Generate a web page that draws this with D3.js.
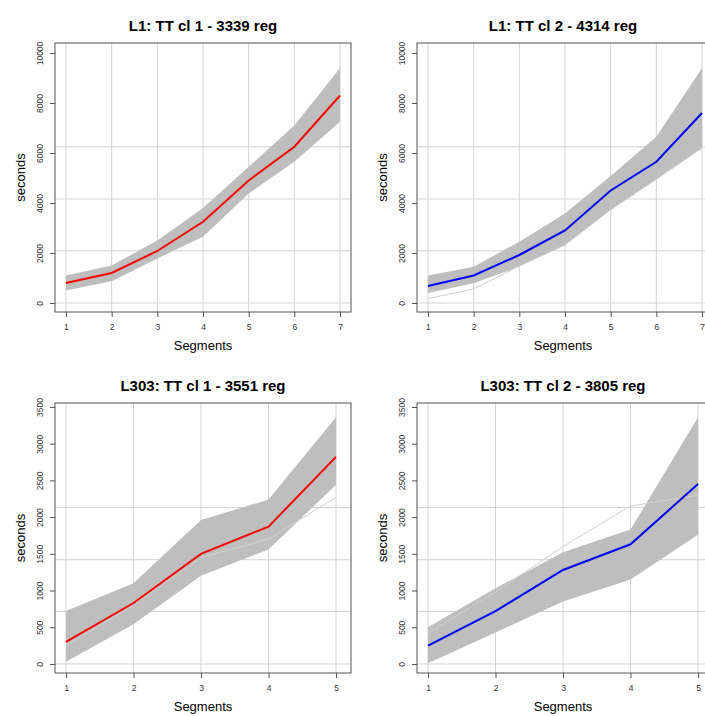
<!DOCTYPE html>
<html>
<head>
<meta charset="utf-8">
<script src="https://cdn.jsdelivr.net/npm/d3@7"></script>
<style>
  body { margin: 0; background: #fff; }
  text { font-family: "Liberation Sans", Arial, Helvetica, sans-serif; }
  .title { font-size: 15px; font-weight: bold; }
  .axis-label { font-size: 13px; }
  .tick text { font-size: 8.5px; fill: #333; }
  .tick line { stroke: #555; }
</style>
</head>
<body>
<svg width="705" height="716"></svg>
<script>
// segments on the x axis
const segmentsL1 = [1, 2, 3, 4, 5, 6, 7];
const segmentsL303 = [1, 2, 3, 4, 5];

// y tick labels and grid lines
const yTicksL1 = [0, 2000, 4000, 6000, 8000, 10000];
const yTicksL303 = [0, 500, 1000, 1500, 2000, 2500, 3000, 3500];
const yGridL1 = [0, 2090, 4160, 6250];
const yGridL303 = [0, 715, 1420, 2130];

// L1 cluster 1 (3339 regions): mean + spread of the gray trajectories
const l1c1Mean = [800, 1200, 2080, 3250, 4900, 6250, 8300];
const l1c1Upper = [1100, 1500, 2500, 3800, 5450, 7100, 9400];
const l1c1Lower = [500, 870, 1780, 2650, 4380, 5650, 7250];

// L1 cluster 2 (4314 regions)
const l1c2Mean = [680, 1100, 1920, 2900, 4500, 5650, 7600];
const l1c2Upper = [1100, 1450, 2450, 3580, 5080, 6650, 9400];
const l1c2Lower = [400, 790, 1460, 2320, 3730, 4950, 6200];
const l1c2Outlier = [180, 560, 1480, 2320, 3730, 4950, 6200];

// L303 cluster 1 (3551 regions)
const l303c1Mean = [300, 830, 1500, 1870, 2820];
const l303c1Upper = [720, 1100, 1960, 2240, 3360];
const l303c1Lower = [30, 540, 1200, 1560, 2440];
const l303c1Outlier = [250, 800, 1450, 1700, 2270];

// L303 cluster 2 (3805 regions)
const l303c2Mean = [250, 720, 1280, 1630, 2450];
const l303c2Upper = [500, 1030, 1520, 1830, 3360];
const l303c2Lower = [10, 430, 850, 1150, 1760];
const l303c2Outlier = [420, 980, 1600, 2150, 2300];

const svg = d3.select('svg');

svg.append('rect')
    .attr('width', 705)
    .attr('height', 716)
    .attr('fill', '#fff');

// one R-style panel: gray trajectories band, mean line, box, axes
const renderPanel = (p, idx) => {
    const xScale = d3.scaleLinear()
        .domain(p.xDomain)
        .range([p.box.left, p.box.right]);

    const yScale = d3.scaleLinear()
        .domain(p.yDomain)
        .range([p.box.bottom, p.box.top]);

    const g = svg.append('g');

    const clipId = 'clip' + idx;
    g.append('clipPath')
        .attr('id', clipId)
        .append('rect')
        .attr('x', p.box.left)
        .attr('y', p.box.top)
        .attr('width', p.box.right - p.box.left)
        .attr('height', p.box.bottom - p.box.top);

    const plot = g.append('g').attr('clip-path', `url(#${clipId})`);

    // grid lines
    plot.selectAll('.vgrid')
        .data(p.segments)
        .enter()
        .append('line')
        .attr('x1', d => xScale(d))
        .attr('x2', d => xScale(d))
        .attr('y1', p.box.top)
        .attr('y2', p.box.bottom)
        .attr('stroke', '#d3d3d3')
        .attr('stroke-width', 1);

    plot.selectAll('.hgrid')
        .data(p.yGrid)
        .enter()
        .append('line')
        .attr('x1', p.box.left)
        .attr('x2', p.box.right)
        .attr('y1', d => yScale(d))
        .attr('y2', d => yScale(d))
        .attr('stroke', '#d3d3d3')
        .attr('stroke-width', 1);

    const rows = p.segments.map((s, i) => ({
        s, lo: p.lower[i], hi: p.upper[i], mean: p.mean[i]
    }));

    // band covering all the gray trajectories
    const area = d3.area()
        .x(d => xScale(d.s))
        .y0(d => yScale(d.lo))
        .y1(d => yScale(d.hi));

    plot.append('path')
        .datum(rows)
        .attr('d', area)
        .attr('fill', '#bebebe');

    // stray trajectories outside the band
    const line = d3.line()
        .x(d => xScale(d[0]))
        .y(d => yScale(d[1]));

    if (p.outlier) {
        plot.append('path')
            .datum(p.segments.map((s, i) => [s, p.outlier[i]]))
            .attr('d', line)
            .attr('fill', 'none')
            .attr('stroke', '#cfcfcf')
            .attr('stroke-width', 1);
    }

    // mean trajectory
    plot.append('path')
        .datum(rows.map(d => [d.s, d.mean]))
        .attr('d', line)
        .attr('fill', 'none')
        .attr('stroke', p.color)
        .attr('stroke-width', 2);

    // box
    g.append('rect')
        .attr('x', p.box.left)
        .attr('y', p.box.top)
        .attr('width', p.box.right - p.box.left)
        .attr('height', p.box.bottom - p.box.top)
        .attr('fill', 'none')
        .attr('stroke', '#555')
        .attr('stroke-width', 1);

    // axes
    const xAxis = d3.axisBottom(xScale)
        .tickValues(p.segments)
        .tickFormat(d3.format('d'))
        .tickSize(5)
        .tickPadding(7);

    const xAxisG = g.append('g')
        .attr('transform', `translate(0,${p.box.bottom})`)
        .call(xAxis);
    xAxisG.select('.domain').remove();

    const yAxis = d3.axisLeft(yScale)
        .tickValues(p.yTicks)
        .tickFormat(d3.format('d'))
        .tickSize(5);

    const yAxisG = g.append('g')
        .attr('transform', `translate(${p.box.left},0)`)
        .call(yAxis);
    yAxisG.select('.domain').remove();
    yAxisG.selectAll('.tick text')
        .attr('transform', 'rotate(-90)')
        .attr('x', 0)
        .attr('y', -12)
        .attr('dy', 0)
        .attr('text-anchor', 'middle');

    // titles
    g.append('text')
        .attr('class', 'title')
        .attr('x', (p.box.left + p.box.right) / 2 + p.titleShift)
        .attr('y', p.box.top - 12)
        .attr('text-anchor', 'middle')
        .text(p.title);

    g.append('text')
        .attr('class', 'axis-label')
        .attr('x', (p.box.left + p.box.right) / 2 + p.titleShift)
        .attr('y', p.box.bottom + 38)
        .attr('text-anchor', 'middle')
        .text('Segments');

    g.append('text')
        .attr('class', 'axis-label')
        .attr('transform', `translate(${p.box.left - 30},${(p.box.top + p.box.bottom) / 2}) rotate(-90)`)
        .attr('text-anchor', 'middle')
        .text('seconds');
};

const topBox = { top: 43, bottom: 312 };
const bottomBox = { top: 403, bottom: 673 };

const panels = [
    {
        title: 'L1: TT cl 1 - 3339 reg', segments: segmentsL1, xDomain: [0.76, 7.24],
        yDomain: [-360, 10400], yTicks: yTicksL1, yGrid: yGridL1,
        mean: l1c1Mean, upper: l1c1Upper, lower: l1c1Lower, color: '#ff0000',
        box: { left: 55, right: 351, ...topBox }, titleShift: 0
    },
    {
        title: 'L1: TT cl 2 - 4314 reg', segments: segmentsL1, xDomain: [0.76, 7.24],
        yDomain: [-360, 10400], yTicks: yTicksL1, yGrid: yGridL1,
        mean: l1c2Mean, upper: l1c2Upper, lower: l1c2Lower, outlier: l1c2Outlier, color: '#0000ff',
        box: { left: 417, right: 713, ...topBox }, titleShift: -2
    },
    {
        title: 'L303: TT cl 1 - 3551 reg', segments: segmentsL303, xDomain: [0.837, 5.222],
        yDomain: [-123, 3554], yTicks: yTicksL303, yGrid: yGridL303,
        mean: l303c1Mean, upper: l303c1Upper, lower: l303c1Lower, outlier: l303c1Outlier, color: '#ff0000',
        box: { left: 55, right: 351, ...bottomBox }, titleShift: 0
    },
    {
        title: 'L303: TT cl 2 - 3805 reg', segments: segmentsL303, xDomain: [0.837, 5.222],
        yDomain: [-123, 3554], yTicks: yTicksL303, yGrid: yGridL303,
        mean: l303c2Mean, upper: l303c2Upper, lower: l303c2Lower, outlier: l303c2Outlier, color: '#0000ff',
        box: { left: 417, right: 713, ...bottomBox }, titleShift: -2
    }
];

panels.forEach(renderPanel);
</script>
</body>
</html>
